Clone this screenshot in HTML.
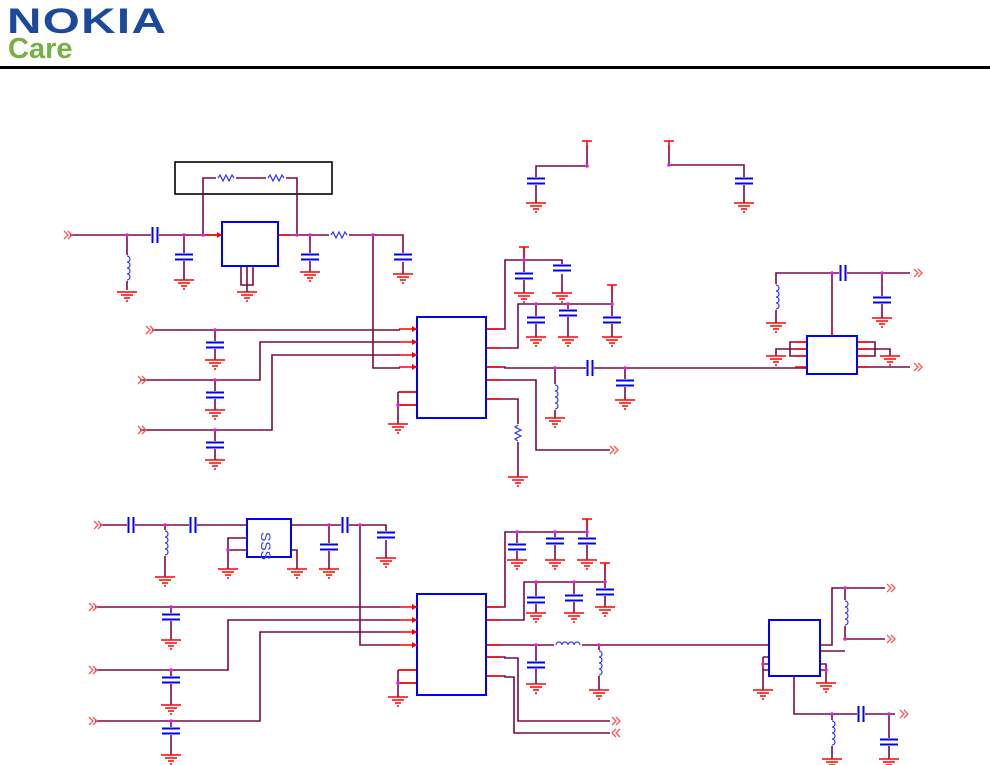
<!DOCTYPE html>
<html><head><style>
body{margin:0;background:#fff;width:990px;height:765px;overflow:hidden;position:relative;font-family:"Liberation Sans",sans-serif}
.nk{position:absolute;left:7px;top:3px;font-size:35px;font-weight:bold;color:#1b4a9c;letter-spacing:1px;transform:scaleX(1.36);transform-origin:left;line-height:38px}
.care{position:absolute;left:8px;top:34px;font-size:29px;font-weight:bold;color:#78b043;line-height:30px}
.hr{position:absolute;left:0;top:66px;width:990px;height:3px;background:#000}
svg{position:absolute;left:0;top:0}
</style></head><body>
<div class="nk">NOKIA</div><div class="care">Care</div><div class="hr"></div>
<svg width="990" height="765" viewBox="0 0 990 765">
<defs>
<g id="g" stroke="#f00" stroke-width="1.5"><line x1="-10" y1="0" x2="10" y2="0"/><line x1="-6" y1="3" x2="6" y2="3"/><line x1="-3" y1="6" x2="3" y2="6"/><line x1="-1" y1="9" x2="1" y2="9"/></g>
<g id="cv" stroke="#00f" stroke-width="2"><line x1="-9" y1="-2.5" x2="9" y2="-2.5"/><line x1="-9" y1="2.5" x2="9" y2="2.5"/></g>
<g id="ch" stroke="#00f" stroke-width="2"><line x1="-2.5" y1="-8" x2="-2.5" y2="8"/><line x1="2.5" y1="-8" x2="2.5" y2="8"/></g>
<path id="rh" d="M-8 0 l2 -3 l3 6 l3 -6 l3 6 l3 -6 l2 3" fill="none" stroke="#33f" stroke-width="1.2"/>
<path id="rv" d="M0 -8 l-3 2 l6 3 l-6 3 l6 3 l-6 3 l3 2" fill="none" stroke="#33f" stroke-width="1.2"/>
<path id="lv" d="M0 -12 a3 3 0 0 1 0 6 a3 3 0 0 1 0 6 a3 3 0 0 1 0 6 a3 3 0 0 1 0 6" fill="none" stroke="#33f" stroke-width="1.2"/>
<path id="lh" d="M-12 0 a3 3 0 0 1 6 0 a3 3 0 0 1 6 0 a3 3 0 0 1 6 0 a3 3 0 0 1 6 0" fill="none" stroke="#33f" stroke-width="1.2"/>
<g id="ar" fill="none" stroke="#f55" stroke-width="1.3"><path d="M-6 -4 l4 4 l-4 4 M-2 -4 l4 4 l-4 4"/></g>
<g id="al" fill="none" stroke="#f55" stroke-width="1.3"><path d="M2 -4 l-4 4 l4 4 M6 -4 l-4 4 l4 4"/></g>
<path id="t" d="M-5 0 h10 M0 0 v8" stroke="#f00" stroke-width="1.5"/>
<g id="pi" stroke="#f00" stroke-width="1.5"><line x1="-18" y1="0" x2="0" y2="0"/><path d="M-5 -3 l5 3 l-5 3z" fill="#f00" stroke="none"/></g>
</defs>
<g fill="none" stroke="#7a0a46" stroke-width="1.6">
<rect x="175" y="162" width="157" height="32" stroke="#000"/>
<path d="M203 235 V178 H297 V235"/>
<path d="M70 235 H222 M278 235 H403 V257 M127 235 V290 M184 235 V280 M310 235 V272 M403 262 V274 M373 235 V368 H400"/>
<path d="M241 266 V285 H253 V266 M247 266 V292"/>
<path d="M152 330 H400 M140 380 H260 V342 H400 M140 430 H272 V355 H400 M215 330 V360 M215 380 V410 M215 430 V460"/>
<path d="M398 392 H417 M398 405 V424 M398 392 V405 H417"/>
<path d="M486 329 H505 V260 H562 V268 M524 247 V293 M562 274 V293"/>
<path d="M486 348 H518 V304 H612 M536 304 V337 M568 304 V337 M612 285 V337"/>
<path d="M486 367 H505 V368 H806 M555 368 V418 M625 368 V400"/>
<path d="M486 380 H536 V450 H610 M486 399 H518 V477"/>
<path d="M587 145 V166 H536 V203 M669 145 V165 H744 V203"/>
<path d="M832 336 V273 H776 V323 M832 273 H910 M882 273 V318 M857 367 H910"/>
<path d="M807 342 H790 V356 H807 M776 356 V349 H807 M857 342 H875 V356 H857 M890 356 V349 H857"/>
<path d="M100 525 H247 M165 525 V577 M291 525 H386 V535 M329 525 V569 M386 540 V558 M360 525 V645 H400 M228 569 V538 H247 M228 550 H247 M291 550 H297 V569"/>
<path d="M95 607 H400 M95 670 H228 V620 H400 M95 721 H260 V632 H400 M171 607 V640 M171 670 V705 M171 721 V755"/>
<path d="M398 670 H417 M398 683 H417 M398 670 V697"/>
<path d="M486 607 H505 V532 H587 M517 532 V560 M555 532 V560 M587 519 V560"/>
<path d="M486 620 H524 V582 H605 M536 582 V613 M574 582 V613 M605 563 V607"/>
<path d="M486 645 H770 M536 645 V684 M599 645 V690"/>
<path d="M486 657 H505 V658 H518 V721 H610 M486 676 H505 V677 H514 V733 H610"/>
<path d="M820 645 H832 V588 H885 M845 588 V639 H885 M820 651 H845 M763 657 H769 M763 657 V690 M763 664 H769 M763 670 H769 M820 664 H826 V683 M820 670 H826"/>
<path d="M794 676 V714 H895 M832 714 V759 M889 714 V759"/>
</g>
<g stroke="#f00" stroke-width="1.5">
<line x1="486" y1="329" x2="500" y2="329"/><line x1="486" y1="348" x2="500" y2="348"/><line x1="486" y1="367" x2="500" y2="367"/><line x1="486" y1="380" x2="500" y2="380"/><line x1="486" y1="399" x2="500" y2="399"/>
<line x1="400" y1="392" x2="417" y2="392"/><line x1="400" y1="405" x2="417" y2="405"/>
<line x1="486" y1="607" x2="500" y2="607"/><line x1="486" y1="620" x2="500" y2="620"/><line x1="486" y1="645" x2="500" y2="645"/><line x1="486" y1="657" x2="500" y2="657"/><line x1="486" y1="676" x2="500" y2="676"/>
<line x1="400" y1="670" x2="417" y2="670"/><line x1="400" y1="683" x2="417" y2="683"/>
<line x1="832" y1="327" x2="832" y2="336"/><line x1="795" y1="342" x2="807" y2="342"/><line x1="795" y1="349" x2="807" y2="349"/><line x1="795" y1="356" x2="807" y2="356"/><line x1="857" y1="342" x2="869" y2="342"/><line x1="857" y1="349" x2="869" y2="349"/><line x1="857" y1="356" x2="869" y2="356"/><line x1="795" y1="367" x2="807" y2="367"/><line x1="857" y1="367" x2="869" y2="367"/>
<line x1="278" y1="235" x2="290" y2="235"/>
</g>
<g fill="none" stroke="#00f" stroke-width="2">
<rect x="222" y="222" width="56" height="44"/><rect x="417" y="317" width="69" height="101"/><rect x="807" y="336" width="50" height="38"/>
<rect x="247" y="519" width="44" height="38"/><rect x="417" y="594" width="69" height="101"/><rect x="769" y="620" width="51" height="56"/>
</g>
<text x="262" y="545" font-size="14" fill="#33f" font-family="Liberation Sans,sans-serif" transform="rotate(90 268 538)">SSS</text>
<use href="#pi" x="417" y="329"/><use href="#pi" x="417" y="342"/><use href="#pi" x="417" y="355"/><use href="#pi" x="417" y="367"/>
<use href="#pi" x="417" y="607"/><use href="#pi" x="417" y="620"/><use href="#pi" x="417" y="632"/><use href="#pi" x="417" y="645"/>
<use href="#pi" x="222" y="235"/>
<g fill="#fff" stroke="none"><rect x="216" y="175" width="20" height="7"/><rect x="266" y="175" width="20" height="7"/><rect x="329" y="232" width="20" height="7"/><rect x="514" y="424" width="8" height="18"/>
<rect x="122" y="255" width="10" height="26"/><rect x="550" y="384" width="10" height="26"/><rect x="771" y="284" width="10" height="26"/><rect x="160" y="530" width="10" height="26"/><rect x="594" y="650" width="10" height="26"/><rect x="840" y="600" width="10" height="26"/><rect x="827" y="720" width="10" height="26"/><rect x="554" y="640" width="28" height="8"/></g>
<use href="#rh" x="226" y="178"/><use href="#rh" x="276" y="178"/><use href="#rh" x="339" y="235"/><use href="#rv" x="518" y="433"/>
<use href="#lv" x="127" y="268"/><use href="#lv" x="555" y="397"/><use href="#lv" x="776" y="297"/><use href="#lv" x="165" y="543"/><use href="#lv" x="599" y="663"/><use href="#lv" x="845" y="613"/><use href="#lv" x="832" y="733"/><use href="#lh" x="568" y="645"/>
<g fill="#fff" stroke="none">
<rect x="180" y="253" width="8" height="8"/><rect x="306" y="253" width="8" height="8"/><rect x="399" y="253" width="8" height="8"/><rect x="211" y="341" width="8" height="8"/><rect x="211" y="391" width="8" height="8"/><rect x="211" y="441" width="8" height="8"/>
<rect x="520" y="272" width="8" height="8"/><rect x="558" y="264" width="8" height="8"/><rect x="532" y="316" width="8" height="8"/><rect x="564" y="309" width="8" height="8"/><rect x="608" y="316" width="8" height="8"/><rect x="621" y="379" width="8" height="8"/>
<rect x="532" y="177" width="8" height="8"/><rect x="740" y="177" width="8" height="8"/><rect x="878" y="296" width="8" height="8"/>
<rect x="325" y="543" width="8" height="8"/><rect x="382" y="531" width="8" height="8"/><rect x="167" y="613" width="8" height="8"/><rect x="167" y="676" width="8" height="8"/><rect x="167" y="727" width="8" height="8"/>
<rect x="513" y="543" width="8" height="8"/><rect x="551" y="537" width="8" height="8"/><rect x="583" y="537" width="8" height="8"/><rect x="532" y="596" width="8" height="8"/><rect x="570" y="594" width="8" height="8"/><rect x="601" y="588" width="8" height="8"/><rect x="532" y="661" width="8" height="8"/><rect x="885" y="738" width="8" height="8"/>
<rect x="151" y="231" width="8" height="8"/><rect x="586" y="364" width="8" height="8"/><rect x="839" y="269" width="8" height="8"/><rect x="127" y="521" width="8" height="8"/><rect x="189" y="521" width="8" height="8"/><rect x="341" y="521" width="8" height="8"/><rect x="857" y="710" width="8" height="8"/>
</g>
<use href="#cv" x="184" y="257"/><use href="#cv" x="310" y="257"/><use href="#cv" x="403" y="257"/><use href="#cv" x="215" y="345"/><use href="#cv" x="215" y="395"/><use href="#cv" x="215" y="445"/>
<use href="#cv" x="524" y="276"/><use href="#cv" x="562" y="268"/><use href="#cv" x="536" y="320"/><use href="#cv" x="568" y="313"/><use href="#cv" x="612" y="320"/><use href="#cv" x="625" y="383"/>
<use href="#cv" x="536" y="181"/><use href="#cv" x="744" y="181"/><use href="#cv" x="882" y="300"/>
<use href="#cv" x="329" y="547"/><use href="#cv" x="386" y="535"/><use href="#cv" x="171" y="617"/><use href="#cv" x="171" y="680"/><use href="#cv" x="171" y="731"/>
<use href="#cv" x="517" y="547"/><use href="#cv" x="555" y="541"/><use href="#cv" x="587" y="541"/><use href="#cv" x="536" y="600"/><use href="#cv" x="574" y="598"/><use href="#cv" x="605" y="592"/><use href="#cv" x="536" y="665"/><use href="#cv" x="889" y="742"/>
<use href="#ch" x="155" y="235"/><use href="#ch" x="590" y="368"/><use href="#ch" x="843" y="273"/><use href="#ch" x="131" y="525"/><use href="#ch" x="193" y="525"/><use href="#ch" x="345" y="525"/><use href="#ch" x="861" y="714"/>
<use href="#g" x="127" y="292"/><use href="#g" x="184" y="280"/><use href="#g" x="247" y="292"/><use href="#g" x="310" y="272"/><use href="#g" x="403" y="274"/>
<use href="#g" x="215" y="360"/><use href="#g" x="215" y="410"/><use href="#g" x="215" y="460"/><use href="#g" x="398" y="424"/>
<use href="#g" x="524" y="293"/><use href="#g" x="562" y="293"/><use href="#g" x="536" y="337"/><use href="#g" x="568" y="337"/><use href="#g" x="612" y="337"/><use href="#g" x="555" y="418"/><use href="#g" x="625" y="400"/><use href="#g" x="518" y="477"/>
<use href="#g" x="536" y="203"/><use href="#g" x="744" y="203"/><use href="#g" x="776" y="323"/><use href="#g" x="882" y="318"/><use href="#g" x="776" y="356"/><use href="#g" x="890" y="356"/>
<use href="#g" x="165" y="577"/><use href="#g" x="228" y="569"/><use href="#g" x="297" y="569"/><use href="#g" x="329" y="569"/><use href="#g" x="386" y="558"/>
<use href="#g" x="171" y="640"/><use href="#g" x="171" y="705"/><use href="#g" x="171" y="755"/><use href="#g" x="398" y="697"/>
<use href="#g" x="517" y="560"/><use href="#g" x="555" y="560"/><use href="#g" x="587" y="560"/><use href="#g" x="536" y="613"/><use href="#g" x="574" y="613"/><use href="#g" x="605" y="607"/><use href="#g" x="536" y="684"/><use href="#g" x="599" y="690"/>
<use href="#g" x="763" y="690"/><use href="#g" x="826" y="683"/><use href="#g" x="832" y="759"/><use href="#g" x="889" y="759"/>
<use href="#t" x="524" y="247"/><use href="#t" x="612" y="285"/><use href="#t" x="587" y="141"/><use href="#t" x="669" y="141"/><use href="#t" x="587" y="519"/><use href="#t" x="605" y="563"/>
<use href="#ar" x="70" y="235"/><use href="#ar" x="152" y="330"/><use href="#ar" x="144" y="380"/><use href="#ar" x="144" y="430"/><use href="#ar" x="616" y="450"/><use href="#ar" x="920" y="273"/><use href="#ar" x="920" y="367"/>
<use href="#ar" x="100" y="525"/><use href="#ar" x="95" y="607"/><use href="#ar" x="95" y="670"/><use href="#ar" x="95" y="721"/><use href="#ar" x="618" y="721"/><use href="#al" x="614" y="733"/><use href="#ar" x="893" y="588"/><use href="#ar" x="893" y="639"/><use href="#ar" x="906" y="714"/>
<g fill="#e020e0">
<circle cx="127" cy="235" r="1.8"/><circle cx="184" cy="235" r="1.8"/><circle cx="203" cy="235" r="1.8"/><circle cx="297" cy="235" r="1.8"/><circle cx="310" cy="235" r="1.8"/><circle cx="373" cy="235" r="1.8"/>
<circle cx="215" cy="330" r="1.8"/><circle cx="215" cy="380" r="1.8"/><circle cx="215" cy="430" r="1.8"/><circle cx="398" cy="405" r="1.8"/>
<circle cx="524" cy="260" r="1.8"/><circle cx="536" cy="304" r="1.8"/><circle cx="568" cy="304" r="1.8"/><circle cx="612" cy="304" r="1.8"/><circle cx="555" cy="368" r="1.8"/><circle cx="625" cy="368" r="1.8"/>
<circle cx="587" cy="166" r="1.8"/><circle cx="669" cy="165" r="1.8"/><circle cx="832" cy="273" r="1.8"/><circle cx="882" cy="273" r="1.8"/>
<circle cx="165" cy="525" r="1.8"/><circle cx="329" cy="525" r="1.8"/><circle cx="360" cy="525" r="1.8"/><circle cx="228" cy="550" r="1.8"/>
<circle cx="171" cy="607" r="1.8"/><circle cx="171" cy="670" r="1.8"/><circle cx="171" cy="721" r="1.8"/><circle cx="398" cy="683" r="1.8"/>
<circle cx="517" cy="532" r="1.8"/><circle cx="555" cy="532" r="1.8"/><circle cx="587" cy="532" r="1.8"/><circle cx="536" cy="582" r="1.8"/><circle cx="574" cy="582" r="1.8"/><circle cx="605" cy="582" r="1.8"/><circle cx="536" cy="645" r="1.8"/><circle cx="599" cy="645" r="1.8"/>
<circle cx="845" cy="588" r="1.8"/><circle cx="845" cy="639" r="1.8"/><circle cx="832" cy="714" r="1.8"/><circle cx="889" cy="714" r="1.8"/><circle cx="763" cy="664" r="1.8"/><circle cx="826" cy="670" r="1.8"/>
</g>
</svg>
</body></html>
